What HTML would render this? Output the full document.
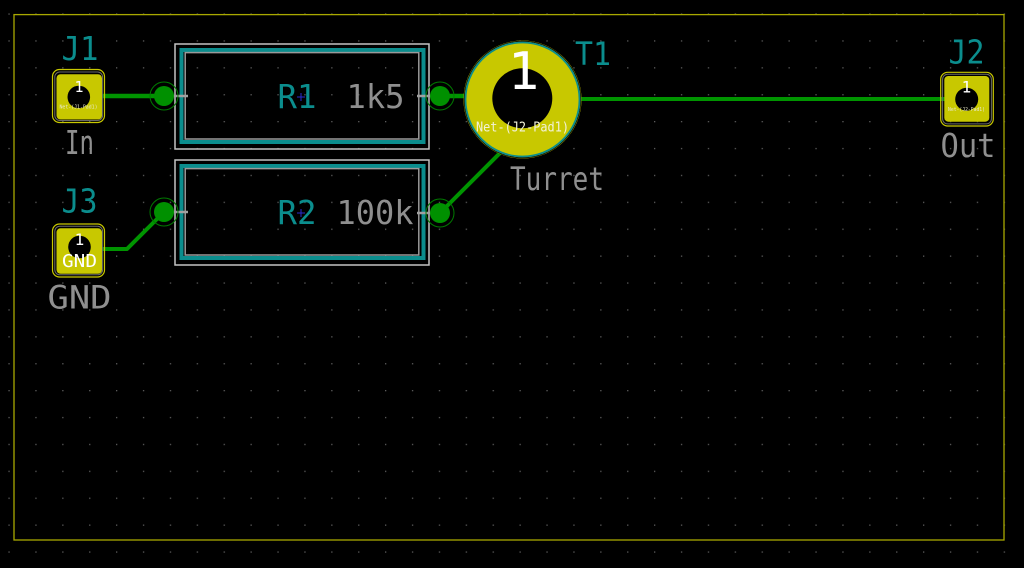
<!DOCTYPE html>
<html><head><meta charset="utf-8"><style>
html,body{margin:0;padding:0;background:#000;width:1024px;height:568px;overflow:hidden}
svg{display:block}
text{font-family:"DejaVu Sans Mono","Liberation Mono",monospace}
</style></head><body>
<svg width="1024" height="568" viewBox="0 0 1024 568" xmlns="http://www.w3.org/2000/svg">
<defs>
<pattern id="g" x="8.4" y="13.4" width="26.9" height="26.9" patternUnits="userSpaceOnUse">
<rect x="0" y="0" width="1.3" height="1.3" fill="#5c5c5c"/>
</pattern>
</defs>
<rect width="1024" height="568" fill="#000"/>
<rect width="1024" height="568" fill="url(#g)"/>
<!-- board outline -->
<rect x="14" y="14.6" width="990" height="525.4" fill="none" stroke="#a8a800" stroke-width="1.3"/>

<!-- traces -->
<g stroke="#009400" stroke-width="4.5" fill="none" stroke-linecap="round" stroke-linejoin="round">
<line x1="100" y1="96" x2="164" y2="96"/>
<line x1="440" y1="96" x2="500" y2="96"/>
<line x1="560" y1="99" x2="960" y2="99" stroke-width="4"/>
<polyline points="100,249 127,249 164,212" stroke-width="4"/>
<line x1="440" y1="213" x2="512" y2="141" stroke-width="4"/>
</g>

<!-- R1 box -->
<rect x="175" y="44" width="254" height="105" fill="none" stroke="#c4c4c4" stroke-width="1.5"/>
<rect x="181.5" y="50" width="242" height="92" fill="none" stroke="#0b8d8d" stroke-width="4"/>
<rect x="185.2" y="52.6" width="233.6" height="86.4" fill="none" stroke="#9a9a9a" stroke-width="1.5"/>
<!-- R2 box -->
<rect x="175" y="160" width="254" height="105" fill="none" stroke="#c4c4c4" stroke-width="1.5"/>
<rect x="181.5" y="166" width="242" height="92" fill="none" stroke="#0b8d8d" stroke-width="4"/>
<rect x="185.2" y="168.6" width="233.6" height="86.4" fill="none" stroke="#9a9a9a" stroke-width="1.5"/>

<!-- pad leads -->
<g stroke="#a0a0a0" stroke-width="2.5">
<line x1="170" y1="96" x2="188" y2="96"/>
<line x1="417" y1="96" x2="436" y2="96"/>
<line x1="170" y1="212" x2="188" y2="212"/>
<line x1="417" y1="213" x2="436" y2="213"/>
</g>

<!-- R pads -->
<g fill="#009000" stroke="none">
<circle cx="164" cy="96" r="10"/>
<circle cx="440" cy="96" r="10"/>
<circle cx="164" cy="212" r="10"/>
<circle cx="440" cy="213" r="10"/>
</g>
<g fill="none" stroke="#007a00" stroke-width="1">
<circle cx="164" cy="96" r="14"/>
<circle cx="440" cy="96" r="14"/>
<circle cx="164" cy="212" r="14"/>
<circle cx="440" cy="213" r="14"/>
</g>

<!-- anchors -->
<g stroke="#2a2ad0" stroke-width="1">
<line x1="297" y1="97" x2="305" y2="97"/><line x1="301" y1="93" x2="301" y2="101"/>
<line x1="297" y1="213" x2="305" y2="213"/><line x1="301" y1="209" x2="301" y2="217"/>
</g>

<!-- R texts -->
<text x="277.5" y="108" font-size="33" fill="#0b8d8d" textLength="39" lengthAdjust="spacingAndGlyphs">R1</text>
<text x="346.5" y="108" font-size="33" fill="#8f8f8f" textLength="58" lengthAdjust="spacingAndGlyphs">1k5</text>
<text x="277.5" y="224" font-size="33" fill="#0b8d8d" textLength="39" lengthAdjust="spacingAndGlyphs">R2</text>
<text x="336.5" y="224" font-size="33" fill="#8f8f8f" textLength="77" lengthAdjust="spacingAndGlyphs">100k</text>

<!-- T1 turret -->
<circle cx="522.5" cy="99.5" r="59" fill="#c8c800"/>
<circle cx="522.5" cy="99.5" r="58.3" fill="none" stroke="#000" stroke-width="0.8"/>
<circle cx="522.5" cy="99.5" r="57" fill="none" stroke="#0b8d8d" stroke-width="1.8"/>
<circle cx="522.3" cy="98.3" r="30" fill="#000"/>
<text x="523.5" y="89" font-size="52" fill="#ffffff" text-anchor="middle">1</text>
<text x="476" y="131.5" font-size="13" fill="#f2f2d8" textLength="93" lengthAdjust="spacingAndGlyphs">Net-(J2-Pad1)</text>
<text x="575" y="65" font-size="32" fill="#0b8d8d" textLength="36" lengthAdjust="spacingAndGlyphs">T1</text>
<text x="510" y="190" font-size="32" fill="#8f8f8f" textLength="94" lengthAdjust="spacingAndGlyphs">Turret</text>

<!-- J1 -->
<rect x="52.5" y="69.5" width="52" height="53" rx="7" fill="none" stroke="#c8c800" stroke-width="1.2"/>
<rect x="54.8" y="72" width="47.8" height="48.5" rx="5" fill="none" stroke="#6a6a6a" stroke-width="1"/>
<rect x="56.5" y="74.2" width="45.5" height="45.3" rx="4" fill="#c8c800"/>
<circle cx="78.8" cy="97" r="11.3" fill="#000"/>
<text x="79" y="92" font-size="15" fill="#ffffff" text-anchor="middle">1</text>
<text x="59.5" y="108.5" font-size="5" fill="#e8e8c8" textLength="38" lengthAdjust="spacingAndGlyphs">Net-(J1-Pad1)</text>
<text x="61.5" y="60" font-size="33" fill="#0b8d8d" textLength="37" lengthAdjust="spacingAndGlyphs">J1</text>
<text x="65" y="154" font-size="33" fill="#8f8f8f" textLength="29" lengthAdjust="spacingAndGlyphs">In</text>

<!-- J3 -->
<rect x="52.5" y="224" width="52" height="53" rx="7" fill="none" stroke="#c8c800" stroke-width="1.2"/>
<rect x="54.8" y="226.3" width="47.8" height="48.5" rx="5" fill="none" stroke="#6a6a6a" stroke-width="1"/>
<rect x="56.5" y="228.3" width="45.5" height="45.5" rx="4" fill="#c8c800"/>
<circle cx="79.5" cy="247" r="11.3" fill="#000"/>
<text x="79.5" y="245" font-size="16" fill="#ffffff" text-anchor="middle">1</text>
<text x="62" y="267" font-size="18" fill="#ffffff" textLength="35" lengthAdjust="spacingAndGlyphs">GND</text>
<text x="61.5" y="212.7" font-size="33" fill="#0b8d8d" textLength="36" lengthAdjust="spacingAndGlyphs">J3</text>
<text x="47.5" y="308.5" font-size="32" fill="#8f8f8f" textLength="64" lengthAdjust="spacingAndGlyphs">GND</text>

<!-- J2 -->
<rect x="940.7" y="72.3" width="52.6" height="53.7" rx="7" fill="none" stroke="#c8c800" stroke-width="1.2"/>
<rect x="942.6" y="74.3" width="48.8" height="49.6" rx="5" fill="none" stroke="#6a6a6a" stroke-width="1"/>
<rect x="944.3" y="76" width="45" height="45.7" rx="4" fill="#c8c800"/>
<circle cx="966.7" cy="99.3" r="11.5" fill="#000"/>
<text x="966.5" y="92.5" font-size="16" fill="#ffffff" text-anchor="middle">1</text>
<text x="948" y="111" font-size="5" fill="#e8e8c8" textLength="37" lengthAdjust="spacingAndGlyphs">Net-(J2-Pad1)</text>
<text x="948.5" y="63.5" font-size="33" fill="#0b8d8d" textLength="36" lengthAdjust="spacingAndGlyphs">J2</text>
<text x="940.5" y="157" font-size="33" fill="#8f8f8f" textLength="55" lengthAdjust="spacingAndGlyphs">Out</text>
</svg>
</body></html>
